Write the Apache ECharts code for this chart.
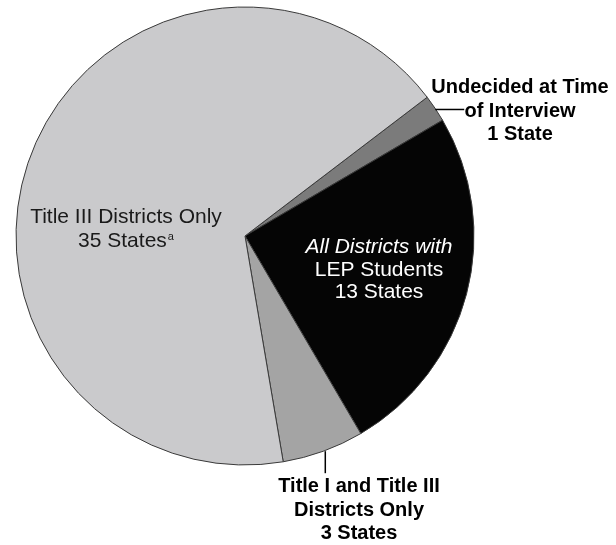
<!DOCTYPE html>
<html><head><meta charset="utf-8">
<script src="https://cdn.jsdelivr.net/npm/echarts@6/dist/echarts.min.js"></script>
<style>html,body{margin:0;background:#fff}#c{width:616px;height:545px}</style>
</head><body><div id="c"></div>
<script>
// ---- data ----
const categories = ['Undecided at Time of Interview', 'All Districts with LEP Students', 'Title I and Title III Districts Only', 'Title III Districts Only'];
const states = [1, 13, 3, 35];
const labelTexts = [
  '{b|Undecided at Time}\n{b|of Interview}\n{b|1 State}',
  '{it|All Districts with}\n{n|LEP Students}\n{n|13 States}',
  '{b|Title I and Title III}\n{b|Districts Only}\n{b|3 States}',
  '{d|Title III Districts Only}\n{d|35 States}{sup|a}'
];

// ---- layout / style ----
const colors = ['#7b7b7b', '#050505', '#a4a4a4', '#cacacc'];
const CX = 245, CY = 236, R = 229, START = 37.3;
const labelPos = [[520, 111], [379, 270], [359, 510], [126, 229]];

const rich = {
  b: { fontFamily: 'Liberation Sans, Arial, sans-serif', fontWeight: 'bold', fontSize: 20, lineHeight: 23.5, color: '#000' },
  it: { fontFamily: 'Liberation Sans, Arial, sans-serif', fontStyle: 'italic', fontSize: 21, lineHeight: 22.5, color: '#fff' },
  n: { fontFamily: 'Liberation Sans, Arial, sans-serif', fontSize: 21, lineHeight: 22.5, color: '#fff' },
  d: { fontFamily: 'Liberation Sans, Arial, sans-serif', fontSize: 21, lineHeight: 23.5, color: '#1a1a1a' },
  sup: { fontFamily: 'Liberation Sans, Arial, sans-serif', fontSize: 11, lineHeight: 23.5, verticalAlign: 'top', color: '#1a1a1a', padding: [2, 0, 0, 1] }
};

const total = states.reduce((a, b) => a + b, 0);
function edgePoint(i) {
  let cum = 0;
  for (let k = 0; k < i; k++) cum += states[k];
  const deg = START - (cum + states[i] / 2) / total * 360;
  const rad = deg * Math.PI / 180;
  return [CX + R * Math.cos(rad), CY - R * Math.sin(rad)];
}
const pU = edgePoint(0), pT = edgePoint(2);

const chart = echarts.init(document.getElementById('c'));
chart.setOption({
  animation: false,
  backgroundColor: '#fff',
  series: [{
    type: 'pie',
    center: [CX, CY],
    radius: R,
    startAngle: START,
    clockwise: true,
    avoidLabelOverlap: false,
    silent: true,
    itemStyle: { borderColor: '#3a3a3a', borderWidth: 1 },
    label: { show: true, position: 'inside', rich: rich },
    labelLine: { show: false },
    labelLayout: function (p) {
      const pos = labelPos[p.dataIndex];
      return { x: pos[0], y: pos[1], align: 'center', verticalAlign: 'middle' };
    },
    data: categories.map((c, i) => ({
      name: c,
      value: states[i],
      itemStyle: { color: colors[i] },
      label: { formatter: labelTexts[i], align: 'center' }
    }))
  }],
  graphic: [
    { type: 'line', shape: { x1: pU[0], y1: pU[1] + 1, x2: pU[0] + 29, y2: pU[1] + 1 }, style: { stroke: '#000', lineWidth: 1.5 }, z: 100 },
    { type: 'line', shape: { x1: pT[0] + 2, y1: pT[1], x2: pT[0] + 2, y2: pT[1] + 22 }, style: { stroke: '#000', lineWidth: 1.5 }, z: 100 }
  ]
});
</script>
</body></html>
